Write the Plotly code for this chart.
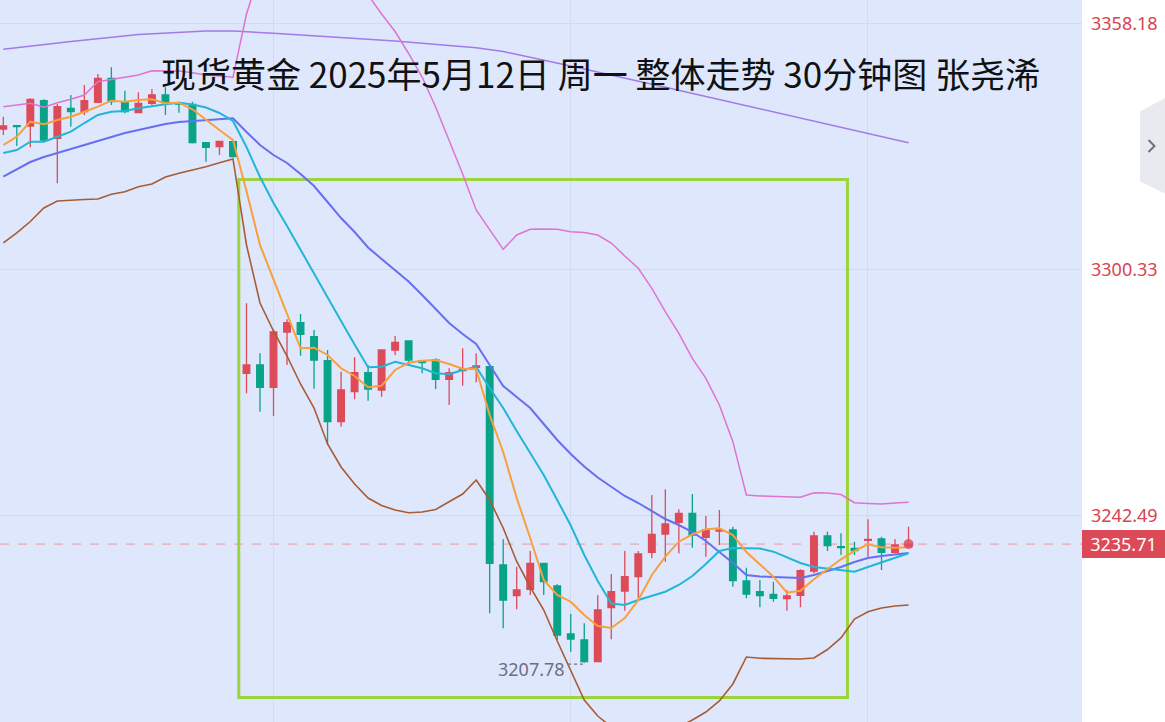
import plotly.graph_objects as go

# ---- 30-minute spot gold candles (index = bar number) ----
bar = list(range(68))

open_ = [3333.32, 3334.10, 3334.03, 3339.98, 3331.14, 3338.19, 3337.39, 3339.60, 3345.25, 3339.74,
         3337.16, 3339.37, 3341.32, 3339.51, 3339.13, 3330.10, 3329.16, 3330.34, 3275.87, 3277.83,
         3272.58, 3285.59, 3287.77, 3284.48, 3278.84, 3264.49, 3271.55, 3276.01, 3271.95, 3281.35,
         3283.47, 3278.77, 3279.00, 3274.46, 3276.49, 3277.29, 3277.43, 3230.79, 3223.57, 3225.08,
         3231.19, 3225.86, 3214.57, 3213.16, 3208.05, 3220.75, 3224.68, 3228.04, 3233.78, 3238.08,
         3240.83, 3242.95, 3237.31, 3238.79, 3239.02, 3227.03, 3224.51, 3223.90, 3222.87, 3223.67,
         3229.38, 3237.61, 3235.10, 3234.72, 3236.60, 3236.91, 3233.78, 3235.03]
high = [3336.22, 3334.26, 3340.54, 3340.31, 3339.20, 3341.32, 3343.67, 3346.26, 3347.83, 3342.33,
        3341.95, 3342.73, 3343.13, 3339.74, 3339.74, 3330.20, 3330.57, 3330.50, 3292.34, 3280.58,
        3286.22, 3288.57, 3289.82, 3286.06, 3281.35, 3276.25, 3279.64, 3277.83, 3281.45, 3284.65,
        3283.60, 3279.00, 3279.40, 3277.05, 3281.75, 3280.58, 3277.83, 3236.84, 3230.39, 3234.09,
        3231.30, 3226.25, 3219.27, 3217.08, 3223.74, 3228.68, 3234.09, 3234.10, 3247.25, 3248.59,
        3243.89, 3247.49, 3242.32, 3243.73, 3239.80, 3230.16, 3227.27, 3226.87, 3224.91, 3229.78,
        3238.62, 3238.62, 3238.25, 3236.27, 3241.54, 3237.45, 3236.84, 3239.80]
low = [3331.91, 3329.33, 3329.02, 3330.34, 3320.55, 3333.86, 3336.62, 3339.37, 3338.97, 3337.02,
       3337.02, 3338.97, 3336.62, 3337.16, 3329.90, 3325.63, 3327.21, 3326.60, 3271.17, 3266.84,
       3265.83, 3277.83, 3280.01, 3272.25, 3259.01, 3263.32, 3269.76, 3269.43, 3270.37, 3280.18,
       3278.06, 3275.87, 3272.18, 3268.42, 3272.96, 3273.76, 3219.44, 3215.91, 3220.37, 3223.74,
       3223.74, 3213.16, 3210.41, 3207.78, 3207.95, 3213.32, 3220.05, 3222.96, 3232.37, 3231.57,
       3233.54, 3234.86, 3232.75, 3235.50, 3225.69, 3222.96, 3220.85, 3222.16, 3220.05, 3220.85,
       3228.84, 3234.09, 3233.15, 3233.15, 3232.75, 3229.62, 3233.54, 3234.79]
close = [3334.03, 3333.86, 3340.31, 3330.74, 3338.57, 3337.39, 3339.98, 3345.25, 3339.74, 3337.39,
         3339.37, 3341.32, 3339.51, 3339.20, 3330.10, 3329.02, 3330.43, 3326.81, 3277.83, 3272.58,
         3285.59, 3287.77, 3285.05, 3279.00, 3264.49, 3271.95, 3276.01, 3272.18, 3281.35, 3283.16,
         3279.00, 3278.37, 3274.46, 3276.01, 3276.81, 3277.59, 3231.19, 3222.56, 3224.91, 3231.19,
         3226.87, 3214.33, 3213.39, 3208.10, 3220.21, 3224.51, 3228.04, 3233.38, 3238.01, 3240.43,
         3242.95, 3237.85, 3239.02, 3239.02, 3227.10, 3223.97, 3223.57, 3222.96, 3223.50, 3229.45,
         3237.61, 3235.33, 3234.86, 3234.16, 3236.84, 3233.78, 3235.50, 3235.71]

# ---- moving averages ----
ma5 = [3329.56, 3331.51, 3335.04, 3334.43, 3335.44, 3336.22, 3337.39, 3338.57, 3339.98, 3339.74,
       3340.14, 3340.31, 3339.37, 3339.51, 3337.96, 3335.44, 3333.09, 3330.74, 3318.74, 3306.05,
       3297.81, 3289.82, 3281.75, 3281.89, 3280.18, 3277.05, 3275.24, 3272.58, 3272.96, 3276.65,
       3278.37, 3278.84, 3279.00, 3278.06, 3276.96, 3276.81, 3266.07, 3257.37, 3246.55, 3237.14,
       3227.27, 3223.74, 3222.16, 3219.04, 3216.45, 3215.98, 3218.33, 3222.56, 3228.44, 3232.75,
       3236.27, 3238.01, 3239.19, 3239.42, 3237.85, 3233.85, 3231.03, 3228.04, 3224.28, 3224.75,
       3227.43, 3229.78, 3232.13, 3234.09, 3235.66, 3234.96, 3234.86, 3234.96]
ma10 = [3327.68, 3328.39, 3330.34, 3330.34, 3331.51, 3332.69, 3334.73, 3336.62, 3337.39, 3337.56,
        3338.19, 3338.73, 3339.13, 3339.51, 3339.09, 3338.38, 3337.09, 3335.21, 3329.09, 3322.04,
        3315.92, 3310.51, 3304.87, 3299.23, 3293.46, 3288.17, 3282.65, 3277.28, 3277.43, 3278.60,
        3277.83, 3277.05, 3275.87, 3275.64, 3276.65, 3277.36, 3272.42, 3267.71, 3262.31, 3257.13,
        3251.96, 3246.08, 3240.08, 3233.15, 3227.03, 3221.74, 3221.39, 3222.56, 3223.50, 3224.51,
        3226.09, 3228.21, 3231.03, 3234.09, 3234.79, 3234.79, 3234.67, 3233.92, 3232.67, 3231.26,
        3230.32, 3229.97, 3229.50, 3229.22, 3230.32, 3231.38, 3232.44, 3233.54]
ma20 = [3322.11, 3323.92, 3325.56, 3326.74, 3327.68, 3328.62, 3329.56, 3330.50, 3331.32, 3332.38,
        3333.09, 3333.79, 3334.50, 3334.97, 3335.21, 3335.44, 3335.68, 3335.84, 3332.62, 3329.56,
        3327.21, 3325.33, 3322.74, 3319.92, 3316.16, 3312.39, 3309.10, 3305.46, 3302.75, 3300.17,
        3297.46, 3294.29, 3290.99, 3287.70, 3285.12, 3282.76, 3277.83, 3272.89, 3270.30, 3267.71,
        3263.95, 3260.19, 3256.90, 3253.96, 3251.37, 3249.14, 3247.02, 3245.37, 3243.49, 3241.61,
        3240.20, 3238.55, 3236.44, 3233.85, 3231.26, 3228.44, 3228.09, 3227.97, 3227.85, 3227.74,
        3228.44, 3229.38, 3230.32, 3231.50, 3232.44, 3232.91, 3233.26, 3233.62]

# ---- Bollinger bands ----
boll_upper = [3338.57, 3338.97, 3339.37, 3338.43, 3339.51, 3340.31, 3341.32, 3344.45, 3345.01, 3345.48,
              3346.02, 3347.03, 3347.03, 3346.96, 3346.56, 3346.02, 3345.79, 3345.48, 3360.37, 3370.24,
              3380.12, 3387.18, 3390.70, 3391.41, 3389.53, 3383.65, 3374.24, 3364.83, 3360.37, 3356.25,
              3351.08, 3345.55, 3338.50, 3330.74, 3322.74, 3314.28, 3309.57, 3305.03, 3308.40, 3309.74,
              3309.81, 3309.74, 3309.17, 3308.98, 3308.40, 3306.52, 3303.46, 3300.57, 3295.86, 3290.36,
              3285.28, 3279.40, 3274.70, 3268.42, 3259.79, 3247.25, 3247.02, 3246.90, 3246.78, 3246.71,
              3247.80, 3247.73, 3247.37, 3245.44, 3245.26, 3245.14, 3245.37, 3245.54]
boll_lower = [3306.52, 3308.87, 3311.57, 3314.75, 3316.39, 3316.63, 3316.74, 3316.86, 3317.97, 3318.58,
              3319.75, 3320.39, 3322.04, 3322.91, 3323.68, 3324.46, 3325.40, 3326.27, 3306.05, 3292.41,
              3285.82, 3279.94, 3273.36, 3267.71, 3259.25, 3253.84, 3249.84, 3246.55, 3244.79, 3243.73,
              3243.09, 3243.26, 3243.85, 3245.61, 3247.49, 3250.78, 3246.08, 3239.49, 3231.62, 3225.62,
              3220.21, 3212.92, 3206.10, 3199.05, 3195.28, 3192.70, 3191.29, 3190.58, 3190.58, 3191.29,
              3192.70, 3194.34, 3196.22, 3198.81, 3202.81, 3209.16, 3208.85, 3208.81, 3208.69, 3208.69,
              3208.92, 3210.92, 3213.63, 3218.09, 3219.81, 3220.68, 3221.15, 3221.39]

# ---- long moving average (sampled bars) ----
ma60_bar = [0, 5, 10, 15, 17, 20, 29, 35, 37, 42, 49, 56, 61, 67]
ma60 = [3352.07, 3353.90, 3355.55, 3356.37, 3356.37, 3355.83, 3354.02, 3352.44, 3351.55,
        3348.14, 3343.13, 3338.03, 3334.50, 3330.10]

# ---- axis and labels ----
price_ticks = [3242.49, 3300.33, 3358.18]
price_tick_text = ["3242.49", "3300.33", "3358.18"]
session_grid_bars = [20, 42, 64]
low_bar = 43
low_price = low[low_bar]
last_price = close[-1]
title_text = "现货黄金 2025年5月12日 周一 整体走势 30分钟图 张尧浠"

# highlighted zone (bar range, price range)
zone_bars = (17.43, 62.48)
zone_prices = (3199.64, 3321.45)

# ---- styling ----
RED = "#dd4a58"
GREEN = "#08a388"
BG = "#dfe7fc"
GRID = "#d0daf3"
Y_RANGE = [3193.87, 3363.66]
X_RANGE = [-0.244, 79.84]
W, H, R_MARGIN = 1165, 722, 83
PLOT_W = W - R_MARGIN


def px_paper(px, py):
    """Pixel position in the figure to paper coordinates."""
    return px / PLOT_W, 1 - py / H


fig = go.Figure()

fig.add_trace(go.Candlestick(
    x=bar, open=open_, high=high, low=low, close=close,
    increasing=dict(line=dict(color=RED, width=1.3), fillcolor=RED),
    decreasing=dict(line=dict(color=GREEN, width=1.3), fillcolor=GREEN),
    whiskerwidth=0, showlegend=False, hoverinfo="skip",
))

line_specs = [
    (ma60_bar, ma60, "#a37ae8", 1.5),
    (bar, boll_upper, "#df73d1", 1.5),
    (bar, boll_lower, "#a85c32", 1.6),
    (bar, ma20, "#6670ee", 2),
    (bar, ma10, "#21b6d6", 2),
    (bar, ma5, "#f99f3c", 2),
]
for xs, ys, color, width in line_specs:
    fig.add_trace(go.Scatter(x=xs, y=ys, mode="lines",
                             line=dict(color=color, width=width),
                             showlegend=False, hoverinfo="skip"))

# current price dot on the last bar
fig.add_trace(go.Scatter(x=[bar[-1]], y=[last_price], mode="markers",
                         marker=dict(size=10, color="rgba(226,80,96,0.85)"),
                         showlegend=False, hoverinfo="skip"))

shapes = [
    # last price dashed line
    dict(type="line", xref="paper", x0=0, x1=1, yref="y", y0=last_price, y1=last_price,
         line=dict(color="#e39aa5", width=1, dash="dash"), layer="between"),
    # highlighted zone
    dict(type="rect", xref="x", yref="y", x0=zone_bars[0], x1=zone_bars[1],
         y0=zone_prices[0], y1=zone_prices[1],
         line=dict(color="#9bd43c", width=3), layer="between"),
    # leader from low label to the low bar
    dict(type="line", xref="x", yref="y", x0=41.8, x1=42.9, y0=low_price - 0.3, y1=low_price - 0.3,
         line=dict(color="#6b7080", width=1.2, dash="dot")),
]

# side panel toggle button
p = [px_paper(1165, 98), px_paper(1140, 111.5), px_paper(1140, 181.5), px_paper(1165, 193.5)]
shapes.append(dict(type="path", xref="paper", yref="paper",
                   path="M {} {} L {} {} L {} {} L {} {} Z".format(*[c for pt in p for c in pt]),
                   fillcolor="#e9eaf0", line=dict(width=0), layer="above"))
c = [px_paper(1148.5, 140), px_paper(1154.5, 146), px_paper(1148.5, 152)]
shapes.append(dict(type="path", xref="paper", yref="paper",
                   path="M {} {} L {} {} L {} {}".format(*[v for pt in c for v in pt]),
                   line=dict(color="#6b6f80", width=2), layer="above"))

tx, ty = px_paper(600, 72)
annotations = [
    dict(text=title_text, xref="paper", yref="paper", x=tx, y=ty, showarrow=False,
         xanchor="center", yanchor="middle",
         font=dict(family="Noto Sans CJK SC", size=35, color="#111111")),
    dict(text=f"{low_price:.2f}", xref="x", yref="y", x=41.75, y=low_price, showarrow=False,
         xanchor="right", yanchor="middle", yshift=-6,
         font=dict(family="Noto Sans", size=18, color="#6b7080")),
    dict(text=f"{last_price:.2f}", xref="paper", yref="y", x=1, y=last_price, showarrow=False,
         xanchor="left", yanchor="middle", width=79, height=24, borderpad=2, borderwidth=0,
         bgcolor="#dc4a57", align="center",
         font=dict(family="Noto Sans", size=18, color="white")),
]

fig.update_layout(
    width=W, height=H,
    margin=dict(l=0, r=R_MARGIN, t=0, b=0, pad=0),
    paper_bgcolor="white", plot_bgcolor=BG,
    boxgap=0.3,
    shapes=shapes, annotations=annotations,
    xaxis=dict(range=X_RANGE, tickvals=session_grid_bars, showticklabels=False,
               showgrid=True, gridcolor=GRID, gridwidth=1, zeroline=False,
               showline=False, ticks="", rangeslider=dict(visible=False), fixedrange=True),
    yaxis=dict(range=Y_RANGE, side="right", tickvals=price_ticks, ticktext=price_tick_text,
               tickfont=dict(family="Noto Sans", size=18, color="#d9434f"),
               showgrid=True, gridcolor=GRID, gridwidth=1, zeroline=False,
               showline=False, ticks="", ticklabelstandoff=8, fixedrange=True),
    hovermode=False,
)

fig.write_html("out.html", config={"displayModeBar": False})
